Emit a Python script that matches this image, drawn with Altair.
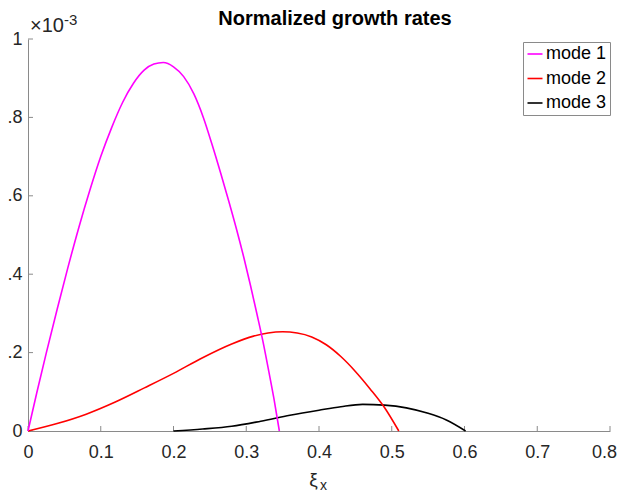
import altair as alt
import pandas as pd

# ---- data (growth rates in units of 1e-3) ----
mode1_x = [0, 0.012, 0.025, 0.040, 0.055, 0.070, 0.085, 0.100, 0.115, 0.130, 0.145,
           0.160, 0.173, 0.186, 0.200, 0.214, 0.228, 0.241, 0.253, 0.265, 0.276,
           0.287, 0.297, 0.306, 0.315, 0.323, 0.331, 0.338, 0.3455]
mode1_y = [0, 0.097, 0.198, 0.310, 0.418, 0.520, 0.614, 0.700, 0.774, 0.838, 0.887,
           0.921, 0.936, 0.940, 0.929, 0.904, 0.860, 0.800, 0.731, 0.657, 0.586,
           0.512, 0.440, 0.370, 0.296, 0.228, 0.152, 0.083, 0]

mode2_x = [0, 0.04, 0.08, 0.12, 0.16, 0.20, 0.24, 0.28, 0.31, 0.33, 0.35, 0.37,
           0.39, 0.41, 0.43, 0.45, 0.47, 0.49, 0.5097]
mode2_y = [0, 0.019, 0.043, 0.074, 0.110, 0.147, 0.187, 0.222, 0.242, 0.250, 0.253, 0.250,
           0.240, 0.220, 0.190, 0.152, 0.108, 0.060, 0]

mode3_x = [0.20, 0.24, 0.28, 0.32, 0.36, 0.40, 0.43, 0.46, 0.49, 0.52, 0.55, 0.575, 0.6015]
mode3_y = [0, 0.005, 0.012, 0.025, 0.040, 0.053, 0.062, 0.068, 0.066, 0.059, 0.045, 0.028, 0]

modes = ["mode 1", "mode 2", "mode 3"]
colors = ["#ff00ff", "#ff0000", "#000000"]

x_ticks = [0, 0.1, 0.2, 0.3, 0.4, 0.5, 0.6, 0.7, 0.8]
y_ticks = [0, 0.2, 0.4, 0.6, 0.8, 1.0]

title_text = ["Normalized growth rates"]
exp_base = ["×10"]
exp_power = ["-3"]
xlabel_main = "ξ"
xlabel_sub = ["x"]

# ---- build table ----
rows = []
for name, xs, ys in [(modes[2], mode3_x, mode3_y), (modes[1], mode2_x, mode2_y), (modes[0], mode1_x, mode1_y)]:
    for xv, yv in zip(xs, ys):
        rows.append({"xi": xv, "g": yv, "mode": name})
df = pd.DataFrame(rows)

W, H = 582, 392
FONT = "Liberation Sans"
AXIS_GRAY = "#8a8a8a"
TXT = "#262626"

xscale = alt.Scale(domain=[0, 0.8], nice=False, zero=False)
yscale = alt.Scale(domain=[0, 1], nice=False)

lines = alt.Chart(df).mark_line(strokeWidth=1.6, interpolate="monotone").encode(
    x=alt.X("xi:Q", scale=xscale,
            axis=alt.Axis(values=x_ticks, format="~g", title=xlabel_main,
                          ticks=False, grid=False, domainColor=AXIS_GRAY, domainWidth=1,
                          labelFont=FONT, labelFontSize=18, labelColor=TXT,
                          labelPadding=12, labelFlush=False,
                          labelOffset={"condition": {"test": "datum.value >= 0.79", "value": -6}, "value": 0},
                          titleFont=FONT, titleFontSize=19, titleFontWeight="normal",
                          titleColor=TXT, titleX=285, titleY=54,
                          titleAlign="center", titleBaseline="alphabetic")),
    y=alt.Y("g:Q", scale=yscale,
            axis=alt.Axis(values=y_ticks, format="~g", title=None,
                          ticks=False, grid=False, domainColor=AXIS_GRAY, domainWidth=1,
                          labelFont=FONT, labelFontSize=18, labelColor=TXT,
                          labelPadding=6, labelFlush=False)),
    color=alt.Color("mode:N", scale=alt.Scale(domain=modes, range=colors),
                    legend=alt.Legend(title=None, orient="none", legendX=495, legendY=3,
                                      symbolType="stroke", symbolSize=225, symbolStrokeWidth=1.6,
                                      labelFont=FONT, labelFontSize=18, labelColor="#000000",
                                      labelOffset=2, rowPadding=6.5, padding=3,
                                      strokeColor=AXIS_GRAY, fillColor="#ffffff")),
)

xt = alt.Chart(pd.DataFrame({"t": x_ticks})).mark_rule(color=AXIS_GRAY, strokeWidth=1).encode(
    x=alt.X("t:Q", scale=xscale), y=alt.value(H), y2=alt.value(H - 5))
yt = alt.Chart(pd.DataFrame({"t": y_ticks})).mark_rule(color=AXIS_GRAY, strokeWidth=1).encode(
    y=alt.Y("t:Q", scale=yscale), x=alt.value(0), x2=alt.value(5))

ttl = alt.Chart(pd.DataFrame({"t": title_text})).mark_text(
    font=FONT, fontSize=20, fontWeight="bold", align="center", baseline="alphabetic",
    color="#000000").encode(x=alt.value(W / 2 + 16), y=alt.value(-14), text="t:N")
exp1 = alt.Chart(pd.DataFrame({"t": exp_base})).mark_text(
    font=FONT, fontSize=20, align="left", baseline="alphabetic", color=TXT).encode(
    x=alt.value(2), y=alt.value(-7), text="t:N")
exp2 = alt.Chart(pd.DataFrame({"t": exp_power})).mark_text(
    font=FONT, fontSize=15, align="left", baseline="alphabetic", color=TXT).encode(
    x=alt.value(36), y=alt.value(-14), text="t:N")
sub = alt.Chart(pd.DataFrame({"t": xlabel_sub})).mark_text(
    font=FONT, fontSize=14, align="left", baseline="alphabetic", color=TXT).encode(
    x=alt.value(292), y=alt.value(H + 59), text="t:N")

chart = alt.layer(xt, yt, lines, ttl, exp1, exp2, sub).properties(
    width=W, height=H,
    padding={"left": 20, "top": 31, "right": 7, "bottom": 61},
    autosize=alt.AutoSizeParams(type="none"),
).configure_view(stroke=None)

chart.save("out.html", embed_options={"renderer": "svg", "actions": False})
